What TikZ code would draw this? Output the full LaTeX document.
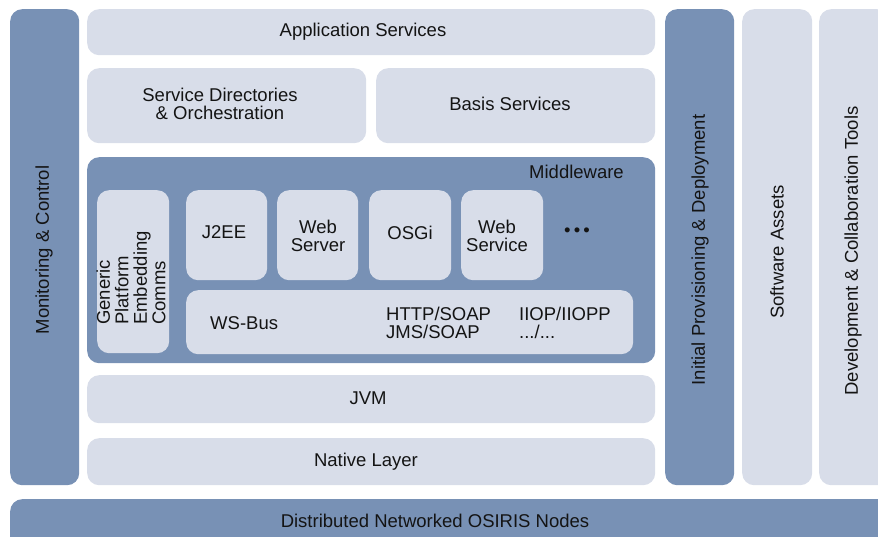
\documentclass[tikz,border=0pt]{standalone}
\usepackage{fontspec}
\setmainfont{Liberation Sans}
\definecolor{dark}{RGB}{120,145,181}
\definecolor{light}{RGB}{216,221,233}
\definecolor{ink}{RGB}{20,20,20}
\begin{document}
\begin{tikzpicture}[x=1pt,y=-1pt,
  every node/.style={font=\fontsize{18.5}{18.5}\selectfont, text=ink, inner sep=0pt},
  lbox/.style={fill=light, rounded corners=12pt, anchor=north west, minimum width=#1},
  lbox/.default=10pt,
  dbox/.style={fill=dark, rounded corners=12pt, anchor=north west, minimum width=#1},
  dbox/.default=10pt,
  vtext/.style={rotate=90},
  ctext/.style={align=center}]
\useasboundingbox (0,0) rectangle (878,537);
\clip (0,0) rectangle (878,537);

% left column
\node[dbox=69pt, minimum height=476pt] (mon) at (10,9) {};
\node[vtext] (monT) at (44,250) {Monitoring \& Control};

% top layers
\node[lbox=568pt, minimum height=46pt] (app) at (87,9) {};
\node (appT) at (363,32) {Application Services};
\node[lbox=279pt, minimum height=75pt] (sd) at (87,68) {};
\node[ctext] (sdT) at (220,104) {Service Directories\\\& Orchestration};
\node[lbox=279pt, minimum height=75pt] (bs) at (376,68) {};
\node (bsT) at (510,104) {Basis Services};

% middleware
\node[dbox=568pt, minimum height=206pt] (mw) at (87,157) {};
\node[anchor=east] (mwT) at (624,172) {Middleware};
\node[lbox=72pt, minimum height=163pt] (gp) at (97,190) {};
\node[vtext, align=left] (gpT) at (131,278) {Generic\\Platform\\Embedding\\Comms};
\node[lbox=81pt, minimum height=90pt] (j2ee) at (186,190) {};
\node (j2eeT) at (224,232) {J2EE};
\node[lbox=81pt, minimum height=90pt] (wsv) at (277,190) {};
\node[ctext] (wsvT) at (318,236) {Web\\Server};
\node[lbox=82pt, minimum height=90pt] (osgi) at (369,190) {};
\node (osgiT) at (410,233) {OSGi};
\node[lbox=82pt, minimum height=90pt] (wse) at (461,190) {};
\node[ctext] (wseT) at (497,236) {Web\\Service};
\node (dots) at (577,232) {•\,•\,•};
\node[lbox=447pt, minimum height=64pt] (bus) at (186,290) {};
\node[anchor=west] (busT) at (210,323) {WS-Bus};
\node[anchor=west, align=left] (httpT) at (386,323) {HTTP/SOAP\\JMS/SOAP};
\node[anchor=west, align=left] (iiopT) at (519,323) {IIOP/IIOPP\\.../...};

% lower layers
\node[lbox=568pt, minimum height=48pt] (jvm) at (87,375) {};
\node (jvmT) at (368,398) {JVM};
\node[lbox=568pt, minimum height=47pt] (nat) at (87,438) {};
\node (natT) at (366,462) {Native Layer};
\node[dbox=890pt, minimum height=50pt] (dist) at (10,499) {};
\node (distT) at (435,521) {Distributed Networked OSIRIS Nodes};

% right columns
\node[dbox=69pt, minimum height=476pt] (prov) at (665,9) {};
\node[vtext] (provT) at (700,250) {Initial Provisioning \& Deployment};
\node[lbox=70pt, minimum height=476pt] (sa) at (742,9) {};
\node[vtext] (saT) at (777,252) {Software Assets};
\node[lbox=70pt, minimum height=476pt] (dev) at (819,9) {};
\node[vtext] (devT) at (853,251) {Development \& Collaboration Tools};
\end{tikzpicture}
\end{document}
